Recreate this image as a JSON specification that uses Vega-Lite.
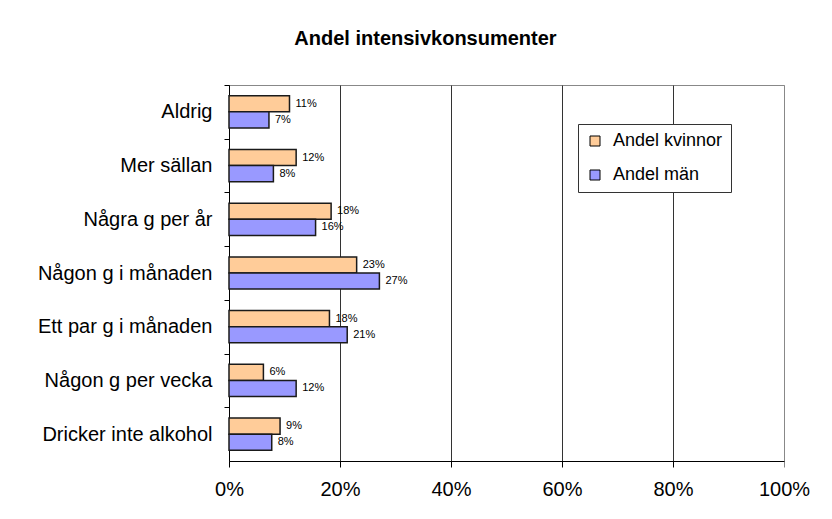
{
  "$schema": "https://vega.github.io/schema/vega-lite/v6.json",
  "autosize": {"type": "none"},
  "width": 555,
  "height": 376,
  "padding": {"left": 229, "top": 85, "right": 48, "bottom": 58},
  "background": "white",
  "title": {
    "text": "Andel intensivkonsumenter",
    "font": "Liberation Sans",
    "fontSize": 20,
    "fontWeight": "bold",
    "color": "#000",
    "anchor": "middle",
    "dx": -81,
    "offset": 36
  },
  "data": {
    "values": [
      {"kategori": "Aldrig", "serie": "Andel kvinnor", "andel": 0.109},
      {"kategori": "Aldrig", "serie": "Andel män", "andel": 0.072},
      {"kategori": "Mer sällan", "serie": "Andel kvinnor", "andel": 0.121},
      {"kategori": "Mer sällan", "serie": "Andel män", "andel": 0.080},
      {"kategori": "Några g per år", "serie": "Andel kvinnor", "andel": 0.184},
      {"kategori": "Några g per år", "serie": "Andel män", "andel": 0.156},
      {"kategori": "Någon g i månaden", "serie": "Andel kvinnor", "andel": 0.230},
      {"kategori": "Någon g i månaden", "serie": "Andel män", "andel": 0.271},
      {"kategori": "Ett par g i månaden", "serie": "Andel kvinnor", "andel": 0.181},
      {"kategori": "Ett par g i månaden", "serie": "Andel män", "andel": 0.213},
      {"kategori": "Någon g per vecka", "serie": "Andel kvinnor", "andel": 0.062},
      {"kategori": "Någon g per vecka", "serie": "Andel män", "andel": 0.121},
      {"kategori": "Dricker inte alkohol", "serie": "Andel kvinnor", "andel": 0.092},
      {"kategori": "Dricker inte alkohol", "serie": "Andel män", "andel": 0.077}
    ]
  },
  "encoding": {
    "y": {
      "field": "kategori",
      "type": "nominal",
      "sort": ["Aldrig", "Mer sällan", "Några g per år", "Någon g i månaden", "Ett par g i månaden", "Någon g per vecka", "Dricker inte alkohol"],
      "scale": {"paddingInner": 0.4, "paddingOuter": 0.2},
      "axis": {
        "title": null,
        "domainColor": "#000",
        "domainWidth": 1,
        "tickColor": "#000",
        "tickSize": 5,
        "tickOffset": -26.86,
        "labelOffset": 26.86,
        "labelPadding": 12,
        "labelFont": "Liberation Sans",
        "labelFontSize": 20,
        "labelColor": "#000",
        "labelLimit": 300
      }
    },
    "yOffset": {
      "field": "serie",
      "type": "nominal",
      "sort": ["Andel kvinnor", "Andel män"],
      "scale": {"paddingInner": 0, "paddingOuter": 0}
    },
    "x": {
      "field": "andel",
      "type": "quantitative",
      "scale": {"domain": [0, 1], "nice": false},
      "axis": {
        "title": null,
        "format": ".0%",
        "values": [0, 0.2, 0.4, 0.6, 0.8, 1],
        "grid": true,
        "gridColor": {"condition": {"test": "datum.value === 1", "value": "#888"}, "value": "#333"},
        "gridWidth": 1,
        "domainColor": "#000",
        "tickColor": {"condition": {"test": "datum.value === 1", "value": "#888"}, "value": "#000"},
        "tickSize": 6,
        "labelPadding": 12,
        "labelFont": "Liberation Sans",
        "labelFontSize": 20,
        "labelColor": "#000",
        "labelFlush": false
      }
    }
  },
  "layer": [
    {
      "mark": {"type": "bar", "stroke": "#1a1a1a", "strokeWidth": 1.5},
      "encoding": {
        "color": {
          "field": "serie",
          "type": "nominal",
          "scale": {"domain": ["Andel kvinnor", "Andel män"], "range": ["#FFCC99", "#9999FF"]},
          "legend": {
            "title": null,
            "orient": "none",
            "legendX": 349,
            "legendY": 39,
            "padding": 8,
            "fillColor": "white",
            "strokeColor": "#333",
            "symbolType": "square",
            "symbolSize": 100,
            "symbolStrokeColor": "#000",
            "symbolStrokeWidth": 1,
            "labelFont": "Liberation Sans",
            "labelFontSize": 18,
            "labelColor": "#000",
            "labelOffset": 9,
            "rowPadding": 16,
            "labelLimit": 300
          }
        }
      }
    },
    {
      "mark": {"type": "text", "align": "left", "baseline": "middle", "dx": 6, "font": "Liberation Sans", "fontSize": 11, "color": "#000"},
      "encoding": {
        "text": {"field": "andel", "type": "quantitative", "format": ".0%"}
      }
    }
  ],
  "config": {
    "view": {"stroke": "#888", "strokeWidth": 1}
  }
}
